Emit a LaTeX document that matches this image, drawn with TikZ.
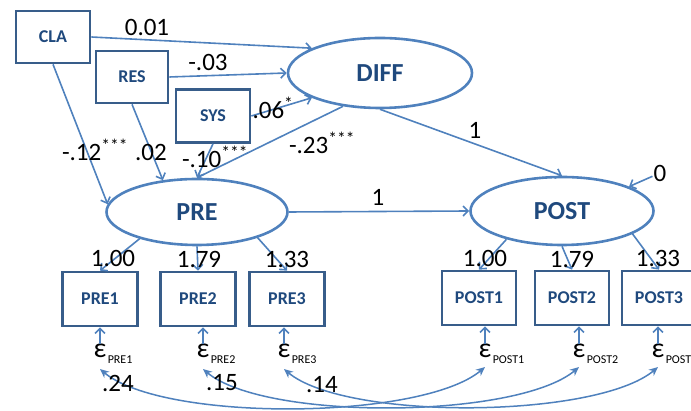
\documentclass[tikz,border=0pt]{standalone}
\usepackage{fontspec}
\setmainfont{Carlito}
\usepackage{xcolor}
\usepackage{tikz}
\usetikzlibrary{shapes,arrows.meta,positioning}

\definecolor{semline}{RGB}{79,129,189}
\definecolor{semedge}{RGB}{56,93,138}
\definecolor{semtext}{RGB}{31,73,125}

\begin{document}
\begin{tikzpicture}[x=1pt,y=1pt,
        obs/.style={draw=semedge, line width=2.7pt, minimum width=74pt, minimum height=52pt, inner sep=0pt, text=semtext, font=\fontsize{18}{20}\selectfont\bfseries},
        lat/.style={ellipse, draw=semline, line width=2.6pt, inner sep=0pt, text=semtext, font=\fontsize{26}{28}\selectfont\bfseries},
        reg/.style={draw=semline, line width=1.6pt, -{Straight Barb[length=5pt,width=10pt]}},
        cov/.style={draw=semline, line width=1.5pt, {Stealth[length=9pt,width=8pt]}-{Stealth[length=9pt,width=8pt]}},
        coef/.style={font=\fontsize{25}{27}\selectfont, inner sep=1pt},
        err/.style={font=\fontsize{28}{30}\selectfont, inner sep=0pt},
        errsub/.style={font=\fontsize{12}{14}\selectfont, inner sep=1pt, anchor=west, yshift=-2pt}]
        \useasboundingbox (0,0) rectangle (691,411);
        \clip (0,0) rectangle (691,411);

        % Predictors
        \node[obs] (cla) at (53,374) {CLA};
        \node[obs, minimum width=72pt] (res) at (132,334) {RES};
        \node[obs, minimum height=53pt] (sys) at (213,295) {SYS};

        % Latent variables
        \node[lat, minimum width=184pt, minimum height=70pt] (diff) at (380,338) {DIFF};
        \node[lat, minimum width=181pt, minimum height=66pt] (pre) at (197,199) {PRE};
        \node[lat, minimum width=183pt, minimum height=68pt] (post) at (562,200) {POST};

        % Indicators
        \node[obs, minimum width=75pt, minimum height=54pt] (pre1) at (100,112) {PRE1};
        \node[obs, minimum width=75pt, minimum height=54pt] (pre2) at (198,112) {PRE2};
        \node[obs, minimum width=75pt, minimum height=54pt] (pre3) at (287,112) {PRE3};
        \node[obs, minimum height=54pt] (post1) at (479,113) {POST1};
        \node[obs, minimum height=54pt] (post2) at (572,113) {POST2};
        \node[obs, minimum height=54pt] (post3) at (659,113) {POST3};

        % Errors
        \node[err, label={[errsub]south east:PRE1}] (e1) at (100,60) {ε};
        \node[err, label={[errsub]south east:PRE2}] (e2) at (203,60) {ε};
        \node[err, label={[errsub]south east:PRE3}] (e3) at (284,60) {ε};
        \node[err, label={[errsub]south east:POST1}] (f1) at (485,60) {ε};
        \node[err, label={[errsub]south east:POST2}] (f2) at (579,60) {ε};
        \node[err, label={[errsub]south east:POST3}] (f3) at (658,60) {ε};

        % Paths to DIFF and PRE
        \draw[reg] (cla.east) -- (diff.160);
        \draw[reg] (res.east) -- (diff.west);
        \draw[reg] (sys.east) -- (diff.200);
        \draw[reg, {Straight Barb[length=5pt,width=10pt]}-] (pre.north) -- (diff.222);
        \draw[reg] (cla.south) -- (pre.175);
        \draw[reg] (res.south) -- (pre.137);
        \draw[reg] (sys.south) -- (pre.north);
        \draw[reg] (diff.south) -- (post.north);
        \draw[reg] (pre.east) -- (post.west);

        \node[coef] (w1) at (147,384) {0.01};
        \node[coef] (w2) at (208,349) {-.03};
        \node[coef] (w3) at (273,303) {.06\textsuperscript{*}};
        \node[coef] (w4) at (322,268) {-.23\textsuperscript{***}};
        \node[coef] (w5) at (95,261) {-.12\textsuperscript{***}};
        \node[coef] (w6) at (151,259) {.02};
        \node[coef] (w7) at (215,254) {-.10\textsuperscript{***}};
        \node[coef] (w8) at (475,281) {1};
        \node[coef] (w9) at (378,214) {1};
        \node[coef] (zero) at (660,238) {0};
        \draw[reg] (zero) -- (post.20);

        % Loadings
        \draw[reg] (pre.205) -- (pre1.north);
        \draw[reg] (pre.south) -- (pre2.north);
        \draw[reg] (pre.337) -- (pre3.north);
        \draw[reg] (post.207) -- (post1.north);
        \draw[reg] (post.south) -- (post2.north);
        \draw[reg] (post.342) -- (post3.north);
        \node[coef] (m1) at (113,153) {1.00};
        \node[coef] (m2) at (199,152) {1.79};
        \node[coef] (m3) at (287,152) {1.33};
        \node[coef] (n1) at (485,153) {1.00};
        \node[coef] (n2) at (572,152) {1.79};
        \node[coef] (n3) at (658,153) {1.33};

        % Error terms
        \draw[reg] (e1.north) -- (e1.north |- pre1.south);
        \draw[reg] (e2.north) -- (e2.north |- pre2.south);
        \draw[reg] (e3.north) -- (e3.north |- pre3.south);
        \draw[reg] (f1.north) -- (f1.north |- post1.south);
        \draw[reg] (f2.north) -- (f2.north |- post2.south);
        \draw[reg] (f3.north) -- (f3.north |- post3.south);

        % Covariances
        \draw[cov] ([yshift=-11pt]e1.south) to[out=-40, in=-140, looseness=0.55] ([yshift=-9pt]f1.south);
        \draw[cov] ([yshift=-11pt]e2.south) to[out=-40, in=-140, looseness=0.55] ([yshift=-9pt]f2.south);
        \draw[cov] ([yshift=-11pt]e3.south) to[out=-40, in=-140, looseness=0.55] ([yshift=-9pt]f3.south);
        \node[coef] (v1) at (118,28) {.24};
        \node[coef] (v2) at (222,28) {.15};
        \node[coef] (v3) at (322,26) {.14};
    \end{tikzpicture}
\end{document}
